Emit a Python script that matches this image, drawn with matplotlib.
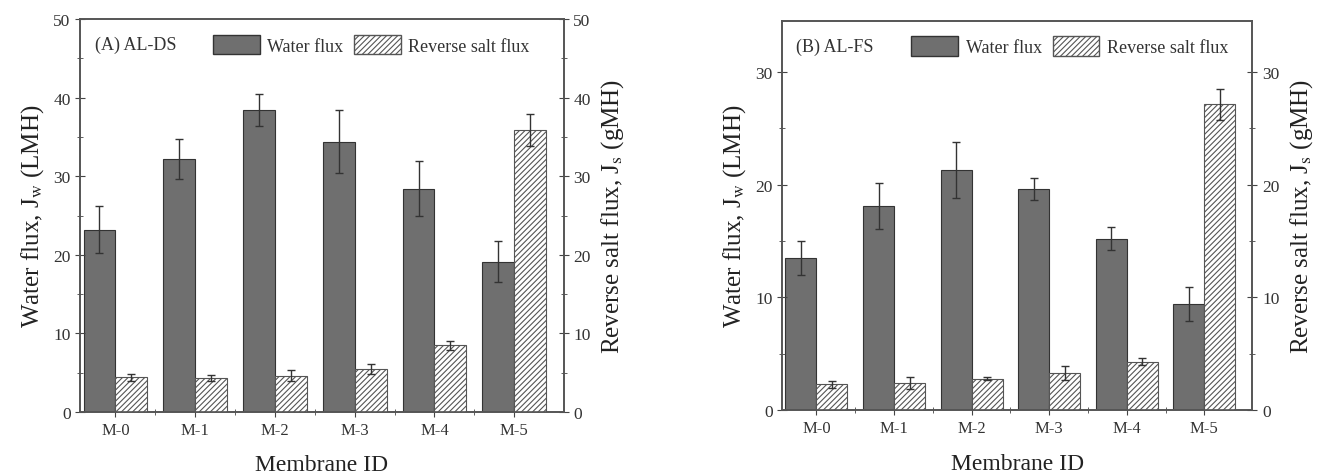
import matplotlib
matplotlib.use("Agg")
import matplotlib.pyplot as plt
from matplotlib.patches import Patch
from matplotlib.ticker import MultipleLocator
import numpy as np

plt.rcParams['font.family'] = ['Liberation Serif', 'DejaVu Serif']
plt.rcParams['mathtext.fontset'] = 'stix'
plt.rcParams['hatch.color'] = '#6a6a6a'
plt.rcParams['hatch.linewidth'] = 0.8

membranes = ['M-0', 'M-1', 'M-2', 'M-3', 'M-4', 'M-5']

# (A) AL-DS
waterA = [23.2, 32.2, 38.4, 34.4, 28.4, 19.1]
waterA_err = [3.0, 2.5, 2.0, 4.0, 3.5, 2.6]
saltA = [4.4, 4.3, 4.6, 5.5, 8.5, 35.9]
saltA_err = [0.5, 0.4, 0.7, 0.6, 0.6, 2.0]

# (B) AL-FS
waterB = [13.5, 18.1, 21.3, 19.6, 15.2, 9.4]
waterB_err = [1.5, 2.0, 2.5, 1.0, 1.0, 1.5]
saltB = [2.3, 2.4, 2.8, 3.3, 4.3, 27.1]
saltB_err = [0.3, 0.5, 0.15, 0.6, 0.3, 1.4]

water_color = '#6f6f6f'
edge = '#333333'


def panel(ax, water, werr, salt, serr, ymax, title):
    x = np.arange(len(membranes))
    w = 0.4
    ax.bar(x - w / 2, water, w, color=water_color, edgecolor=edge, linewidth=0.8,
           yerr=werr, error_kw=dict(ecolor='#333333', elinewidth=1, capsize=3, capthick=1))
    ax2 = ax.twinx()
    ax2.bar(x + w / 2, salt, w, color='white', edgecolor='#555555', linewidth=0.8, hatch='//////',
            yerr=serr, error_kw=dict(ecolor='#333333', elinewidth=1, capsize=3, capthick=1))
    ax.set_xlim(-0.44, 5.62)
    ax.set_ylim(0, ymax)
    ax2.set_ylim(0, ymax)
    ax.set_xticks(x)
    ax.set_xticks(x[:-1] + 0.5, minor=True)
    ax.set_xticklabels(membranes, fontsize=12)
    for a in (ax, ax2):
        a.yaxis.set_major_locator(MultipleLocator(10))
        a.yaxis.set_minor_locator(MultipleLocator(5))
        a.tick_params(axis='y', which='major', labelsize=12.5, length=7, direction='inout',
                      colors='#444444', labelcolor='#333333')
        a.tick_params(axis='y', which='minor', length=4, direction='inout', colors='#444444')
        for s in a.spines.values():
            s.set_color('#555555')
            s.set_linewidth(1.2)
    ax.tick_params(axis='x', which='major', length=7, direction='inout', colors='#444444', labelcolor='#333333')
    ax.tick_params(axis='x', which='minor', length=4, direction='inout', colors='#444444')
    ax.set_ylabel(r'Water flux, J$_\mathrm{w}$ (LMH)', fontsize=18, color='#222222', labelpad=5)
    ax2.set_ylabel(r'Reverse salt flux, J$_\mathrm{s}$ (gMH)', fontsize=18, color='#222222', labelpad=6)
    ax.set_xlabel('Membrane ID', fontsize=17, color='#222222', labelpad=12)
    ax.text(0.03, 0.935, title, transform=ax.transAxes, fontsize=13, color='#333333', va='center')
    handles = [Patch(facecolor=water_color, edgecolor=edge, label='Water flux'),
               Patch(facecolor='white', edgecolor='#555555', hatch='//////', label='Reverse salt flux')]
    ax2.legend(handles=handles, ncol=2, frameon=False, loc='center left', bbox_to_anchor=(0.24, 0.935),
               fontsize=13, handlelength=2.6, handleheight=1.3, columnspacing=0.6, handletextpad=0.4,
               labelcolor='#333333')


fig = plt.figure(figsize=(13.17, 4.77), dpi=100)
axA = fig.add_axes([0.061, 0.134, 0.367, 0.824])
axB = fig.add_axes([0.594, 0.138, 0.357, 0.816])

panel(axA, waterA, waterA_err, saltA, saltA_err, 50, '(A) AL-DS')
panel(axB, waterB, waterB_err, saltB, saltB_err, 34.5, '(B) AL-FS')

fig.savefig('out.png', dpi=100)
